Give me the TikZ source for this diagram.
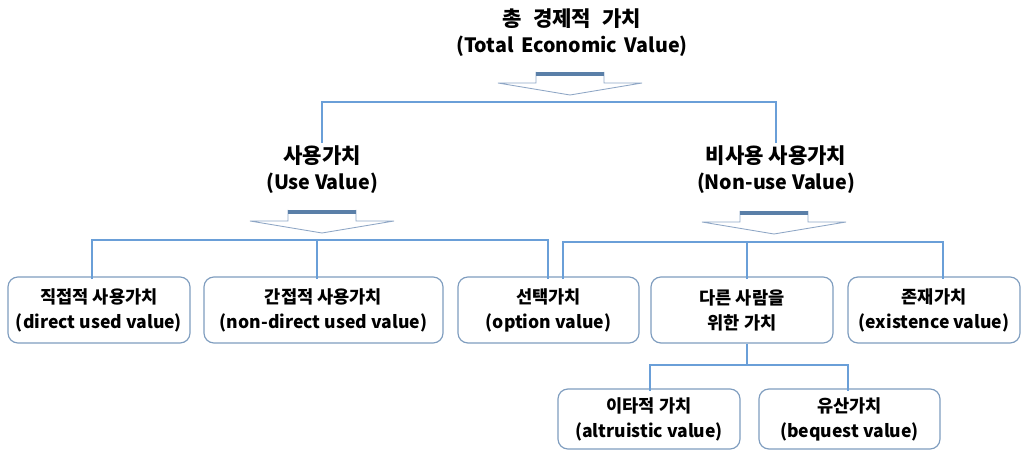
\documentclass[tikz,border=0pt]{standalone}
\usepackage{fontspec}
\setmainfont{Noto Sans CJK KR}
\definecolor{linkblue}{HTML}{6A9FD8}
\definecolor{boxline}{HTML}{7F9DBF}
\definecolor{arrowline}{HTML}{8EA6C5}
\definecolor{arrowtop}{HTML}{5A7FA8}
\newcommand{\krbig}{\fontsize{15}{18.5}\selectfont}
\tikzset{
  head/.style={align=center,font=\fontsize{14}{18.5}\selectfont\bfseries,inner sep=2pt},
  valbox/.style={draw=boxline,line width=0.85pt,rounded corners=0.25cm,fill=white,align=center,
    font=\fontsize{12.5}{17.8}\selectfont\bfseries,minimum height=1.65cm},
  link/.style={linkblue,line width=1.4pt}
}
\begin{document}
\begin{tikzpicture}[x=0.025cm,y=-0.025cm]
\useasboundingbox (0,0) rectangle (1024,451);
\node[head] (tev) at (572,33) {{\krbig 총\hspace{0.3em} 경제적\hspace{0.3em} 가치}\\(Total\hspace{0.15em} Economic\hspace{0.15em} Value)};
\node[head] (use) at (322,170) {{\krbig 사용가치}\\(Use Value)};
\node[head] (nonuse) at (776,170) {{\krbig 비사용 사용가치}\\(Non-use Value)};
\foreach \cx/\ty in {570/72, 322/210, 774/211}{
  \draw[arrowline,line width=0.6pt] (\cx-34,\ty) -- (\cx-34,\ty+11) -- (\cx-72,\ty+11) -- (\cx,\ty+23)
    -- (\cx+72,\ty+11) -- (\cx+34,\ty+11) -- (\cx+34,\ty);
  \fill[arrowtop] (\cx-34,\ty) rectangle (\cx+34,\ty+4);
}
\node[valbox,minimum width=4.55cm] (direct) at (99,310) {직접적 사용가치\\(direct used value)};
\node[valbox,minimum width=5.975cm] (indirect) at (323.5,310) {간접적 사용가치\\(non-direct used value)};
\node[valbox,minimum width=4.525cm] (option) at (548.5,310) {선택가치\\(option value)};
\node[valbox,minimum width=4.55cm] (others) at (742,310) {다른 사람을\\위한 가치};
\node[valbox,minimum width=4.3cm] (exist) at (934,310) {존재가치\\(existence value)};
\node[valbox,minimum width=4.55cm,minimum height=1.5cm] (altru) at (649,419) {이타적 가치\\(altruistic value)};
\node[valbox,minimum width=4.525cm,minimum height=1.5cm] (bequest) at (849.5,419) {유산가치\\(bequest value)};
\coordinate (top) at (548,102);
\coordinate (uL) at (92,240);
\coordinate (uM) at (317,240);
\coordinate (uR) at (548,240);
\coordinate (nL) at (563,242);
\coordinate (nM) at (747,242);
\coordinate (nR) at (943,242);
\coordinate (oL) at (650,365);
\coordinate (oR) at (848,365);
\draw[link] (use.north) |- (top) -| (nonuse.north);
\draw[link] ([yshift=-2pt]direct.north -| uL) -- (uL) -- (uR) -- ([yshift=-2pt]option.north -| uR);
\draw[link] ([yshift=-2pt]indirect.north -| uM) -- (uM);
\draw[link] ([yshift=-2pt]option.north -| nL) -- (nL) -- (nR) -- ([yshift=-2pt]exist.north -| nR);
\draw[link] ([yshift=-2pt]others.north -| nM) -- (nM);
\draw[link] (others.south -| nM) -- (nM |- oL);
\draw[link] ([yshift=-2pt]altru.north -| oL) -- (oL) -- (oR) -- ([yshift=-2pt]bequest.north -| oR);
\end{tikzpicture}
\end{document}
